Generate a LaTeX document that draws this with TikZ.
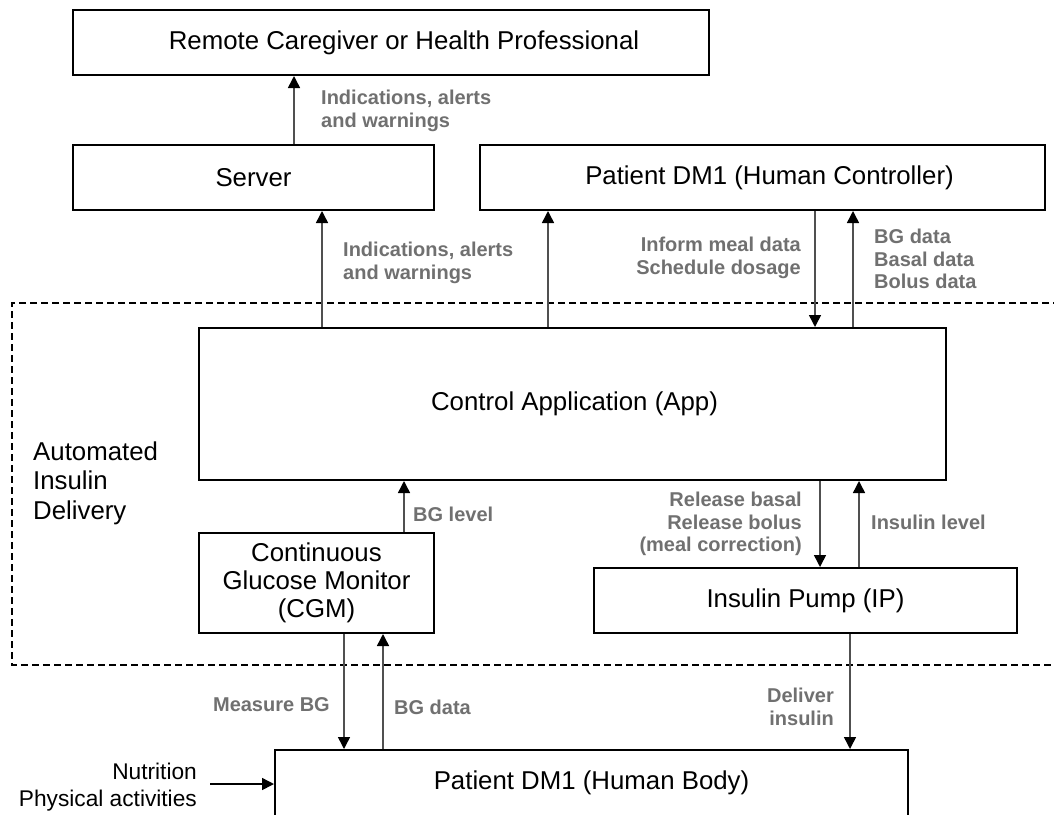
\documentclass[tikz,border=0pt]{standalone}
\usepackage{fontspec}
\setmainfont{Liberation Sans}
\usetikzlibrary{arrows.meta}

\definecolor{lblgray}{HTML}{707070}
\definecolor{linegray}{HTML}{505050}

\tikzset{
  box/.style={draw=black, line width=2pt, rectangle, inner sep=0pt,
    align=center, font=\fontsize{25.8}{28}\selectfont},
  lbl/.style={inner sep=0pt, text=lblgray, font=\fontsize{20}{22.5}\selectfont\bfseries},
  plain/.style={inner sep=0pt, font=\fontsize{25.8}{29.5}\selectfont},
  arr/.style={draw=linegray, line width=1.5pt,
    -{Triangle[width=12pt,length=12pt,fill=black,color=black]}},
  region/.style={draw=black, line width=2pt, dash pattern=on 7pt off 4pt}
}

\begin{document}
\begin{tikzpicture}[x=1pt,y=-1pt]
\useasboundingbox (0,0) rectangle (1054,814);

% main blocks
\node[box, minimum width=636pt, minimum height=65pt] (remote) at (391,42.5)
  {\hspace*{26pt}Remote Caregiver or Health Professional};
\node[box, minimum width=361pt, minimum height=65pt] (server) at (253.5,177.5)
  {Server};
\node[box, minimum width=565pt, minimum height=65pt] (ctrl) at (762.5,177.5)
  {\hspace*{14pt}Patient DM1 (Human Controller)};
\node[box, minimum width=747pt, minimum height=152pt] (app) at (572.5,404)
  {\hspace*{4pt}Control Application (App)};
\node[box, minimum width=235pt, minimum height=100pt] (cgm) at (316.5,583)
  {Continuous\\Glucose Monitor\\(CGM)};
\node[box, minimum width=423pt, minimum height=65pt] (pump) at (805.5,600.5)
  {Insulin Pump (IP)};
\node[box, minimum width=633pt, minimum height=66pt] (body) at (591.5,783)
  {Patient DM1 (Human Body)};

% automated insulin delivery region (open on the right)
\draw[region] (1060,303) -- (12,303) -- (12,665) -- (1060,665);
\node[plain, align=left, anchor=west] (aid) at (33,483)
  {Automated\\Insulin\\Delivery};

% connector columns
\coordinate (c1) at (294,0);
\coordinate (c2) at (322,0);
\coordinate (c3) at (548,0);
\coordinate (c4) at (815,0);
\coordinate (c5) at (853,0);
\coordinate (c6) at (404,0);
\coordinate (c7) at (820,0);
\coordinate (c8) at (859,0);
\coordinate (c9) at (344,0);
\coordinate (c10) at (383,0);
\coordinate (c11) at (850,0);

% connectors
\draw[arr] (server.north -| c1) -- (remote.south -| c1);
\draw[arr] (app.north -| c2) -- (server.south -| c2);
\draw[arr] (app.north -| c3) -- (ctrl.south -| c3);
\draw[arr] (ctrl.south -| c4) -- (app.north -| c4);
\draw[arr] (app.north -| c5) -- (ctrl.south -| c5);
\draw[arr] (cgm.north -| c6) -- (app.south -| c6);
\draw[arr] (app.south -| c7) -- (pump.north -| c7);
\draw[arr] (pump.north -| c8) -- (app.south -| c8);
\draw[arr] (cgm.south -| c9) -- (body.north -| c9);
\draw[arr] (body.north -| c10) -- (cgm.south -| c10);
\draw[arr] (pump.south -| c11) -- (body.north -| c11);

% external inputs to the body
\coordinate (nin) at (210,784);
\draw[arr, draw=black] (nin) -- (body.west |- nin);
\node[inner sep=0pt, align=right, anchor=east,
  font=\fontsize{22.7}{27}\selectfont] (inputs) at (197,787)
  {Nutrition\\Physical activities};

% connector labels
\node[lbl, align=left, anchor=west] (l1) at (321,111)
  {Indications, alerts\\and warnings};
\node[lbl, align=left, anchor=west] (l2) at (343,263)
  {Indications, alerts\\and warnings};
\node[lbl, align=right, anchor=east] (l3) at (801,258)
  {Inform meal data\\Schedule dosage};
\node[lbl, align=left, anchor=west] (l4) at (874,259)
  {BG data\\Basal data\\Bolus data};
\node[lbl, anchor=west] (l5) at (413,514) {BG level};
\node[lbl, align=right, anchor=east] (l6) at (802,524)
  {Release basal\\Release bolus\\(meal correction)};
\node[lbl, anchor=west] (l7) at (871,522) {Insulin level};
\node[lbl, anchor=east] (l8) at (330,705) {Measure BG};
\node[lbl, anchor=west] (l9) at (394,707) {BG data};
\node[lbl, align=right, anchor=east] (l10) at (834,707)
  {Deliver\\insulin};

\end{tikzpicture}
\end{document}
